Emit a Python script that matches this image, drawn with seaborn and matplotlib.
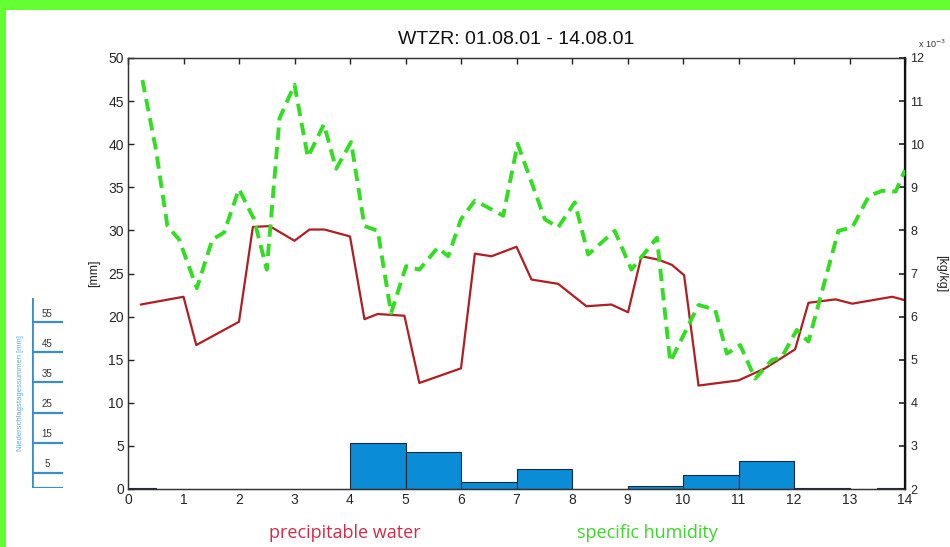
import numpy as np
import pandas as pd
import seaborn as sns
import matplotlib.pyplot as plt
from matplotlib.patches import Rectangle

# Daten
pw_day = [0.23, 1.0, 1.23, 2.0, 2.25, 2.55, 3.0, 3.27, 3.54, 4.0, 4.26, 4.5, 4.98, 5.25,
          6.0, 6.25, 6.55, 7.0, 7.27, 7.75, 8.26, 8.71, 9.01, 9.25, 9.56, 9.8, 10.02,
          10.28, 11.0, 11.48, 12.02, 12.26, 12.75, 13.05, 13.77, 14.0]
pw_mm = [21.4, 22.3, 16.7, 19.4, 30.4, 30.5, 28.8, 30.1, 30.1, 29.3, 19.7, 20.3, 20.1, 12.3,
         14.0, 27.3, 27.0, 28.1, 24.3, 23.8, 21.2, 21.4, 20.5, 27.0, 26.6, 26.0, 24.8,
         12.0, 12.6, 14.0, 16.2, 21.6, 22.0, 21.5, 22.3, 21.9]

sh_day = [0.26, 0.5, 0.71, 0.92, 1.24, 1.52, 1.73, 2.0, 2.27, 2.5, 2.73, 3.0, 3.24, 3.53,
          3.75, 4.02, 4.26, 4.5, 4.74, 5.01, 5.25, 5.58, 5.77, 6.0, 6.25, 6.43, 6.76, 7.02,
          7.51, 7.75, 8.05, 8.29, 8.77, 9.07, 9.53, 9.77, 10.28, 10.58, 10.79, 11.03, 11.3,
          11.6, 11.78, 12.05, 12.26, 12.8, 13.05, 13.35, 13.59, 13.83, 14.0]
sh_e3 = [11.49, 9.9, 8.1, 7.79, 6.66, 7.79, 7.95, 8.96, 8.26, 7.09, 10.6, 11.38, 9.7, 10.46,
         9.43, 10.05, 8.1, 7.99, 6.08, 7.17, 7.09, 7.6, 7.4, 8.26, 8.69, 8.57, 8.34, 10.01,
         8.26, 8.07, 8.65, 7.44, 7.99, 7.09, 7.83, 4.95, 6.27, 6.16, 5.14, 5.34, 4.56,
         4.99, 5.06, 5.69, 5.42, 7.99, 8.07, 8.8, 8.92, 8.9, 9.4]

rain_left = [0, 4, 5, 6, 7, 9, 10, 11, 12, 13.5]
rain_width = [0.5, 1, 1, 1, 1, 1, 1, 1, 1, 0.5]
rain_mm = [0.15, 5.3, 4.3, 0.8, 2.3, 0.35, 1.6, 3.2, 0.1, 0.15]

scale_levels = [5, 15, 25, 35, 45, 55]

df_pw = pd.DataFrame({'tag': pw_day, 'pw': pw_mm})
df_sh = pd.DataFrame({'tag': sh_day, 'sh': sh_e3})

sns.set_style('white')
plt.rcParams['font.family'] = ['Liberation Sans', 'DejaVu Sans']
plt.rcParams['xtick.direction'] = 'in'
plt.rcParams['ytick.direction'] = 'in'

fig = plt.figure(figsize=(9.5, 5.47), dpi=100)
fig.patch.set_facecolor('#64ff33')
fig.patches.append(Rectangle((6 / 950, 0), 1, 1 - 10 / 547, transform=fig.transFigure,
                             facecolor='white', edgecolor='none', zorder=-5))

ax = fig.add_axes([128 / 950, 1 - 489 / 547, 777 / 950, 431 / 547])
ax.bar(rain_left, rain_mm, width=rain_width, align='edge', color='#0a8cd6',
       edgecolor='#1a2a3a', linewidth=0.8, zorder=2)
sns.lineplot(data=df_pw, x='tag', y='pw', ax=ax, color='#b01e24', linewidth=1.6,
             zorder=3, estimator=None, sort=False)
ax.set_xlim(0, 14)
ax.set_ylim(0, 50)
ax.set_xticks(range(0, 15))
ax.set_yticks(range(0, 51, 5))
ax.set_xlabel('')
ax.set_ylabel('[mm]', fontsize=9, labelpad=6)
ax.tick_params(axis='both', labelsize=10, length=4, width=1, color='#222222',
               top=True, pad=3)
for s in ax.spines.values():
    s.set_color('#333333')
    s.set_linewidth(1.0)

ax2 = ax.twinx()
sns.lineplot(data=df_sh, x='tag', y='sh', ax=ax2, color='#33dd22', linewidth=2.8,
             linestyle=(0, (3.2, 1.8)), zorder=4, estimator=None, sort=False)
ax2.set_ylim(2, 12)
ax2.set_yticks(range(2, 13))
ax2.set_xlim(0, 14)
ax2.set_ylabel('[kg/kg]', fontsize=9, rotation=270, labelpad=16)
ax2.tick_params(axis='y', labelsize=9, length=4, width=1.2, color='#222222', pad=4)
for s in ax2.spines.values():
    s.set_color('#333333')
ax2.spines['right'].set_linewidth(1.6)
ax2.spines['right'].set_color('#111111')
fig.text(918 / 950, 1 - 44 / 547, 'x 10$^{-3}$', fontsize=6.5, color='#333333',
         ha='left', va='center')

fig.text(516 / 950, 1 - 40 / 547, 'WTZR: 01.08.01 - 14.08.01', fontsize=14,
         ha='center', va='center', color='#111111')

fig.text(345 / 950, 1 - 533 / 547, 'precipitable water', fontsize=13,
         color='#d42a48', ha='center', va='center', family=['Open Sans', 'DejaVu Sans'])
fig.text(647 / 950, 1 - 533 / 547, 'specific humidity', fontsize=13,
         color='#3dd62a', ha='center', va='center', family=['Open Sans', 'DejaVu Sans'])

# Skala Niederschlagstagessummen
axs = fig.add_axes([32 / 950, 1 - 488 / 547, 31 / 950, 190 / 547])
axs.set_xlim(0, 1)
axs.set_ylim(0, 63)
axs.hlines([0] + scale_levels, 0, 1, color='#3a8fc8', linewidth=1.6)
axs.axvline(0, color='#3a8fc8', linewidth=2)
for lv in scale_levels:
    axs.text(0.48, lv + 1.2, str(lv), fontsize=7, ha='center', va='bottom', color='#333333')
axs.set_axis_off()
fig.text(21 / 950, 1 - 393 / 547, 'Niederschlagstagessummen [mm]', fontsize=5.5,
         rotation=90, color='#5aaad8', ha='center', va='center')

fig.savefig('out.png', dpi=100, facecolor=fig.get_facecolor())
